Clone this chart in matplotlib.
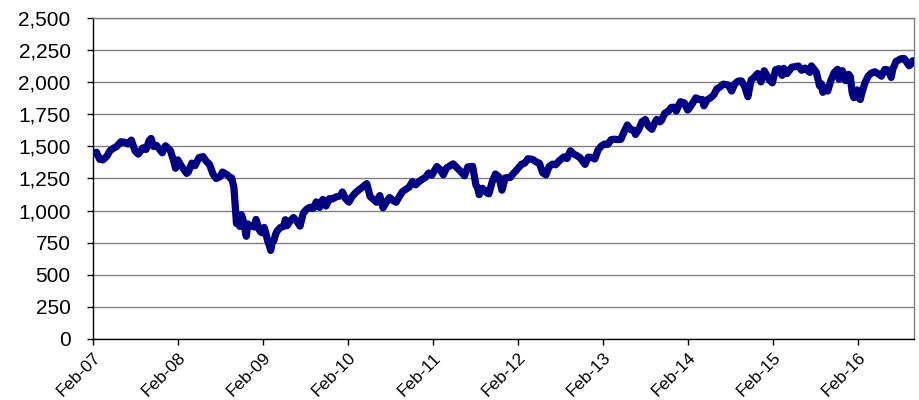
import matplotlib
matplotlib.use("Agg")
import matplotlib.pyplot as plt
import matplotlib.dates as mdates
from matplotlib.ticker import FuncFormatter, MultipleLocator
import pandas as pd

# weekly-ish index levels
dates = [
    "2007-02-02", "2007-02-16", "2007-03-02", "2007-03-16", "2007-04-02", "2007-04-16",
    "2007-05-01", "2007-05-15", "2007-06-01", "2007-06-15", "2007-07-02", "2007-07-16",
    "2007-08-01", "2007-08-15", "2007-09-04", "2007-09-17", "2007-10-01", "2007-10-09",
    "2007-10-19", "2007-11-01", "2007-11-26", "2007-12-10", "2007-12-31",
    "2008-01-15", "2008-01-22", "2008-02-01", "2008-02-15", "2008-03-10", "2008-03-17",
    "2008-04-01", "2008-04-15", "2008-05-02", "2008-05-19", "2008-06-02", "2008-06-16",
    "2008-07-01", "2008-07-15", "2008-08-01", "2008-08-11", "2008-09-02", "2008-09-15",
    "2008-09-19", "2008-09-29", "2008-10-10", "2008-10-17", "2008-10-24", "2008-10-31",
    "2008-11-07", "2008-11-14", "2008-11-21", "2008-11-28", "2008-12-05", "2008-12-12",
    "2008-12-19", "2008-12-26", "2009-01-02",
    "2009-01-09", "2009-01-16", "2009-01-23", "2009-01-30", "2009-02-06", "2009-02-13",
    "2009-02-20", "2009-02-27", "2009-03-06", "2009-03-13", "2009-03-20", "2009-03-27",
    "2009-04-03", "2009-04-17", "2009-05-01", "2009-05-08", "2009-05-15", "2009-05-29",
    "2009-06-12", "2009-06-26", "2009-07-10", "2009-07-24", "2009-08-07", "2009-08-21",
    "2009-09-04", "2009-09-18", "2009-10-02", "2009-10-16", "2009-10-30", "2009-11-13",
    "2009-11-27", "2009-12-11", "2009-12-31",
    "2010-01-08", "2010-01-22", "2010-02-05", "2010-02-19", "2010-03-05", "2010-03-19",
    "2010-04-02", "2010-04-23", "2010-05-07", "2010-05-21", "2010-06-04", "2010-06-18",
    "2010-07-02", "2010-07-16", "2010-07-30", "2010-08-13", "2010-08-27", "2010-09-10",
    "2010-09-24", "2010-10-08", "2010-10-22", "2010-11-05", "2010-11-19", "2010-12-03",
    "2010-12-17", "2010-12-31",
    "2011-01-14", "2011-01-28", "2011-02-18", "2011-03-04", "2011-03-18", "2011-04-01",
    "2011-04-29", "2011-05-13", "2011-06-03", "2011-06-17", "2011-07-01", "2011-07-22",
    "2011-08-05", "2011-08-12", "2011-08-19", "2011-09-02", "2011-09-23", "2011-09-30",
    "2011-10-14", "2011-10-28", "2011-11-11", "2011-11-25", "2011-12-09", "2011-12-30",
    "2012-01-13", "2012-01-27", "2012-02-17", "2012-03-02", "2012-03-16", "2012-04-06",
    "2012-04-20", "2012-05-04", "2012-05-18", "2012-06-01", "2012-06-15", "2012-06-29",
    "2012-07-13", "2012-07-27", "2012-08-17", "2012-08-31", "2012-09-14", "2012-09-28",
    "2012-10-12", "2012-10-26", "2012-11-16", "2012-11-30", "2012-12-14", "2012-12-28",
    "2013-01-11", "2013-01-25", "2013-02-08", "2013-02-22", "2013-03-08", "2013-03-22",
    "2013-04-05", "2013-04-19", "2013-05-03", "2013-05-17", "2013-05-31", "2013-06-14",
    "2013-06-21", "2013-07-05", "2013-07-19", "2013-08-02", "2013-08-16", "2013-08-30",
    "2013-09-13", "2013-09-20", "2013-10-04", "2013-10-11", "2013-10-25", "2013-11-08",
    "2013-11-22", "2013-12-06", "2013-12-13", "2013-12-31",
    "2014-01-17", "2014-01-31", "2014-02-07", "2014-02-21", "2014-03-07", "2014-03-21",
    "2014-04-04", "2014-04-11", "2014-04-25", "2014-05-09", "2014-05-23", "2014-06-06",
    "2014-06-20", "2014-07-03", "2014-07-25", "2014-08-08", "2014-08-22", "2014-09-05",
    "2014-09-19", "2014-10-03", "2014-10-17", "2014-10-31", "2014-11-14", "2014-11-28",
    "2014-12-12", "2014-12-26",
    "2015-01-09", "2015-01-16", "2015-01-30", "2015-02-13", "2015-02-27", "2015-03-13",
    "2015-03-20", "2015-04-03", "2015-04-24", "2015-05-15", "2015-05-22", "2015-06-05",
    "2015-06-19", "2015-07-10", "2015-07-17", "2015-08-07", "2015-08-21", "2015-08-28",
    "2015-09-04", "2015-09-18", "2015-09-25", "2015-10-09", "2015-10-23", "2015-11-06",
    "2015-11-13", "2015-11-27", "2015-12-11", "2015-12-24", "2015-12-31",
    "2016-01-08", "2016-01-15", "2016-01-22", "2016-01-29", "2016-02-05", "2016-02-12",
    "2016-02-19", "2016-03-04", "2016-03-18", "2016-04-01", "2016-04-15", "2016-04-29",
    "2016-05-13", "2016-05-27", "2016-06-10", "2016-06-24", "2016-07-01", "2016-07-15",
    "2016-08-05", "2016-08-19", "2016-09-09", "2016-09-16", "2016-09-23", "2016-09-30",
]
levels = [
    1445, 1455, 1400, 1395, 1424, 1468,
    1486, 1501, 1536, 1533, 1519, 1549,
    1465, 1440, 1489, 1476, 1547, 1562,
    1500, 1508, 1450, 1505, 1468,
    1380, 1330, 1395, 1350, 1290, 1300,
    1370, 1350, 1413, 1420, 1385, 1360,
    1285, 1250, 1265, 1300, 1277, 1250,
    1255, 1180, 899, 940, 877, 968,
    930, 873, 800, 896, 876, 880,
    887, 872, 931,
    890, 850, 832, 826, 869, 827,
    770, 735, 690, 756, 768, 815,
    842, 869, 877, 929, 882, 919,
    946, 918, 879, 979, 1010, 1026,
    1016, 1068, 1025, 1087, 1036, 1093,
    1091, 1106, 1115,
    1145, 1092, 1066, 1109, 1138, 1160,
    1179, 1210, 1111, 1088, 1065, 1117,
    1022, 1065, 1102, 1079, 1065, 1110,
    1149, 1166, 1183, 1225, 1200, 1225,
    1244, 1258,
    1293, 1276, 1343, 1321, 1279, 1332,
    1364, 1338, 1300, 1271, 1340, 1345,
    1199, 1179, 1124, 1174, 1136, 1131,
    1224, 1285, 1264, 1159, 1255, 1258,
    1289, 1316, 1361, 1370, 1404, 1398,
    1379, 1369, 1295, 1278, 1343, 1362,
    1357, 1386, 1418, 1406, 1466, 1441,
    1428, 1411, 1360, 1416, 1414, 1402,
    1472, 1503, 1518, 1516, 1552, 1556,
    1553, 1555, 1614, 1667, 1631, 1626,
    1593, 1632, 1692, 1709, 1656, 1633,
    1688, 1710, 1691, 1703, 1759, 1771,
    1804, 1805, 1775, 1848,
    1839, 1783, 1797, 1836, 1878, 1866,
    1865, 1816, 1863, 1878, 1900, 1949,
    1963, 1985, 1978, 1931, 1988, 2008,
    2010, 1968, 1887, 2018, 2039, 2068,
    2002, 2089,
    2045, 2019, 1995, 2097, 2105, 2053,
    2108, 2067, 2117, 2123, 2126, 2093,
    2110, 2076, 2127, 2078, 1971, 1989,
    1921, 1958, 1931, 2015, 2075, 2100,
    2023, 2090, 2012, 2061, 2044,
    1922, 1880, 1907, 1940, 1880, 1865,
    1918, 2000, 2050, 2073, 2081, 2065,
    2047, 2099, 2096, 2037, 2103, 2162,
    2183, 2184, 2128, 2139, 2165, 2168,
]

tick_years = list(range(2007, 2017))

series = pd.Series(levels, index=pd.to_datetime(dates))

plt.rcParams["font.family"] = ["Liberation Sans", "DejaVu Sans"]

fig = plt.figure(figsize=(9.2, 4.0), dpi=100)
ax = fig.add_axes([0.101, 0.1525, 0.8925, 0.8025])

ax.plot(series.index, series.values, color="#000080", linewidth=5.2, solid_joinstyle="round",
        solid_capstyle="round", zorder=3)

ax.set_ylim(0, 2500)
ax.yaxis.set_major_locator(MultipleLocator(250))
ax.yaxis.set_major_formatter(FuncFormatter(lambda v, _: f"{v:,.0f}"))
ax.grid(axis="y", color="#808080", linewidth=1.0, zorder=1)
ax.set_axisbelow(True)

ax.set_xlim(pd.Timestamp("2007-02-01"), pd.Timestamp("2016-09-30"))
ticks = [pd.Timestamp(f"{y}-02-01") for y in tick_years]
ax.set_xticks(ticks)
ax.xaxis.set_major_formatter(mdates.DateFormatter("%b-%y"))
for lbl in ax.get_xticklabels():
    lbl.set_rotation(45)
    lbl.set_ha("right")
    lbl.set_rotation_mode("anchor")

ax.tick_params(axis="y", labelsize=15, length=4, width=1, color="black", pad=12)
ax.tick_params(axis="x", labelsize=12.5, length=4, width=1, color="black", pad=4)

ax.spines["left"].set_color("black")
ax.spines["bottom"].set_color("black")
ax.spines["top"].set_color("#808080")
ax.spines["right"].set_color("#808080")
for s in ax.spines.values():
    s.set_linewidth(1.0)

fig.savefig("out.png", dpi=100)
